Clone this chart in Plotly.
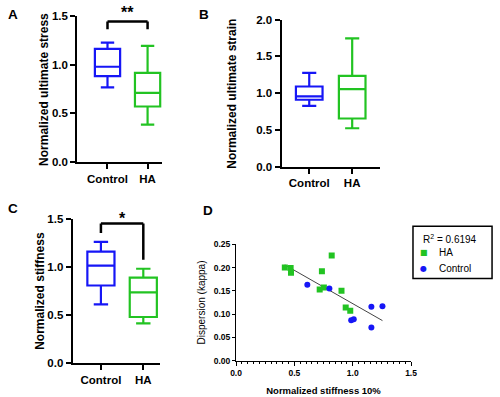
import numpy as np
import plotly.graph_objects as go

# ---------------- data ----------------
groups = ["Control", "HA"]
group_pos = [0, 1]

# Panel A: normalized ultimate stress (min, q1, median, q3, max)
stress_min = [0.765, 0.384]
stress_q1 = [0.88, 0.57]
stress_med = [0.977, 0.71]
stress_q3 = [1.16, 0.914]
stress_max = [1.224, 1.19]

# Panel B: normalized ultimate strain
strain_min = [0.827, 0.523]
strain_q1 = [0.91, 0.655]
strain_med = [0.955, 1.055]
strain_q3 = [1.09, 1.235]
strain_max = [1.275, 1.745]

# Panel C: normalized stiffness
stiff_min = [0.61, 0.413]
stiff_q1 = [0.806, 0.479]
stiff_med = [1.013, 0.735]
stiff_q3 = [1.158, 0.889]
stiff_max = [1.259, 0.98]

# Panel D: scatter
ha_x = [0.418, 0.468, 0.471, 0.736, 0.820, 0.717, 0.753, 0.904, 0.940, 0.979]
ha_y = [0.200, 0.199, 0.189, 0.192, 0.226, 0.153, 0.157, 0.150, 0.114, 0.107]
ctrl_x = [0.611, 0.800, 0.987, 1.009, 1.160, 1.255, 1.160]
ctrl_y = [0.163, 0.155, 0.087, 0.089, 0.116, 0.117, 0.071]
r2_text = "R<sup>2</sup> = 0.6194"
legend_names = ["HA", "Control"]

# axis titles
title_A = "Normalized ultimate stress"
title_B = "Normalized ultimate strain"
title_C = "Normalized stiffness"
title_Dx = "Normalized stiffness 10%"
title_Dy = "Dispersion (kappa)"

# significance brackets: (y_top, y_left_end, y_right_end, label)
sig_A = [1.44, 1.36, 1.36, "**"]
sig_C = [1.45, 1.35, 1.073, "*"]

BLUE = "#1616f6"
GREEN = "#22c322"
FONT = "Liberation Sans, Arial, sans-serif"

fig = go.Figure()


def add_box(stats, xa, ya, width):
    mn, q1, md, q3, mx = stats
    for i, col in enumerate([BLUE, GREEN]):
        fig.add_trace(go.Box(
            x=[group_pos[i]], q1=[q1[i]], median=[md[i]], q3=[q3[i]],
            lowerfence=[mn[i]], upperfence=[mx[i]],
            width=width, whiskerwidth=0.53,
            line=dict(color=col, width=2.2), fillcolor="rgba(255,255,255,0)",
            boxpoints=False, showlegend=False, hoverinfo="skip",
            xaxis=xa, yaxis=ya,
        ))


add_box([stress_min, stress_q1, stress_med, stress_q3, stress_max], "x", "y", 0.63)
add_box([strain_min, strain_q1, strain_med, strain_q3, strain_max], "x2", "y2", 0.62)
add_box([stiff_min, stiff_q1, stiff_med, stiff_q3, stiff_max], "x3", "y3", 0.64)

# regression line for panel D
all_x = np.array(ha_x + ctrl_x)
all_y = np.array(ha_y + ctrl_y)
slope, intercept = np.polyfit(all_x, all_y, 1)
lx = np.array([all_x.min(), all_x.max()])
fig.add_trace(go.Scatter(x=lx, y=slope * lx + intercept, mode="lines",
                         line=dict(color="#444444", width=1), showlegend=False,
                         hoverinfo="skip", xaxis="x4", yaxis="y4"))
fig.add_trace(go.Scatter(x=ha_x, y=ha_y, mode="markers", name="HA",
                         marker=dict(symbol="square", size=6, color=GREEN),
                         xaxis="x4", yaxis="y4"))
fig.add_trace(go.Scatter(x=ctrl_x, y=ctrl_y, mode="markers", name="Control",
                         marker=dict(symbol="circle", size=6, color=BLUE),
                         xaxis="x4", yaxis="y4"))

box_xaxis = dict(tickmode="array", tickvals=group_pos, ticktext=groups,
                 showline=True, linecolor="black", linewidth=2, ticks="outside",
                 ticklen=5, tickwidth=2, tickcolor="black", showgrid=False,
                 zeroline=False, tickfont=dict(family=FONT, size=11.5, color="black", weight="bold"))
box_yaxis = dict(showline=True, linecolor="black", linewidth=2, ticks="outside",
                 ticklen=5, tickwidth=2, tickcolor="black", showgrid=False,
                 zeroline=False, tickformat=".1f",
                 tickfont=dict(family=FONT, size=11.5, color="black", weight="bold"))
ttl = dict(family=FONT, size=12, color="black", weight="bold")

fig.update_layout(
    width=500, height=397, margin=dict(l=0, r=0, t=0, b=0),
    paper_bgcolor="white", plot_bgcolor="white",
    font=dict(family=FONT, color="black"),
    showlegend=False,
    xaxis=dict(box_xaxis, domain=[0.146, 0.32], range=[-0.755, 1.364]),
    yaxis=dict(box_yaxis, domain=[0.5945, 0.9748], range=[0, 1.5], dtick=0.5),
    xaxis2=dict(box_xaxis, domain=[0.5646, 0.766], range=[-0.645, 1.643], anchor="y2"),
    yaxis2=dict(box_yaxis, domain=[0.5826, 0.9647], range=[0, 2.0], dtick=0.5, anchor="x2"),
    xaxis3=dict(box_xaxis, domain=[0.1366, 0.316], range=[-0.667, 1.399], anchor="y3"),
    yaxis3=dict(box_yaxis, domain=[0.0723, 0.4476], range=[0, 1.5], dtick=0.5, anchor="x3"),
    xaxis4=dict(domain=[0.4714, 0.83], range=[0, 1.5], anchor="y4", dtick=0.5,
                tickformat=".1f", showline=True, linecolor="black", linewidth=1.2,
                ticks="outside", ticklen=4, tickwidth=1.2, tickcolor="black",
                minor=dict(dtick=0.05, ticks="outside", ticklen=2.5, tickwidth=1, tickcolor="black"),
                showgrid=False, zeroline=False,
                tickfont=dict(family=FONT, size=8.5, color="black", weight="bold"),
                title=dict(text=title_Dx, standoff=10,
                           font=dict(family=FONT, size=9.5, color="black", weight="bold"))),
    yaxis4=dict(domain=[0.0788, 0.3811], range=[0, 0.25], anchor="x4", dtick=0.05,
                tickformat=".2f", showline=True, linecolor="black", linewidth=1.2,
                ticks="outside", ticklen=3, tickwidth=1.2, tickcolor="black",
                showgrid=False, zeroline=False,
                tickfont=dict(family=FONT, size=8.5, color="black", weight="bold"),
                title=dict(text=title_Dy, standoff=6,
                           font=dict(family=FONT, size=10, color="black"))),
)

# y-axis titles of the box panels, placed as in the original
for txt, px, py in [(title_A, 39, 86.5), (title_B, 232, 90), (title_C, 34, 293.5)]:
    fig.add_annotation(xref="paper", yref="paper", x=px / 500, y=1 - py / 397, text=txt,
                       textangle=-90, showarrow=False, xanchor="center", yanchor="middle",
                       font=ttl)

# significance brackets
for sig, xa, ya, shift in [(sig_A, "x", "y", 9), (sig_C, "x3", "y3", 5)]:
    ytop, yl, yr, lab = sig
    fig.add_shape(type="line", xref=xa, yref=ya, x0=group_pos[0], x1=group_pos[1], y0=ytop, y1=ytop,
                  line=dict(color="black", width=2.5))
    fig.add_shape(type="line", xref=xa, yref=ya, x0=group_pos[0], x1=group_pos[0], y0=yl, y1=ytop,
                  line=dict(color="black", width=2.5))
    fig.add_shape(type="line", xref=xa, yref=ya, x0=group_pos[1], x1=group_pos[1], y0=yr, y1=ytop,
                  line=dict(color="black", width=2.5))
    fig.add_annotation(xref=xa, yref=ya, x=0.5, y=ytop, yanchor="middle", yshift=shift,
                       text=lab, showarrow=False,
                       font=dict(family=FONT, size=16, color="black", weight="bold"))

# panel letters
for lab, px, py in [("A", 7, 8.5), ("B", 202.5, 8.5), ("C", 7.5, 209), ("D", 206.5, 211)]:
    fig.add_annotation(xref="paper", yref="paper", x=px / 500, y=1 - py / 397, text=lab,
                       showarrow=False, xanchor="center", yanchor="middle",
                       font=dict(family=FONT, size=13.5, color="black", weight="bold"))

# legend box for panel D (drawn by hand to match the compact original)
fig.add_shape(type="rect", xref="paper", yref="paper", x0=417 / 500, x1=498 / 500,
              y0=1 - 281 / 397, y1=1 - 227 / 397, line=dict(color="black", width=1.5),
              fillcolor="white")
fig.add_annotation(xref="paper", yref="paper", x=425 / 500, y=1 - 240 / 397, text=r2_text,
                   showarrow=False, xanchor="left", yanchor="middle",
                   font=dict(family=FONT, size=10, color="black"))
for name, sym, col, py in [(legend_names[0], "■", GREEN, 254.5), (legend_names[1], "●", BLUE, 271)]:
    fig.add_annotation(xref="paper", yref="paper", x=428 / 500, y=1 - py / 397, text=sym,
                       showarrow=False, xanchor="center", yanchor="middle",
                       font=dict(family="DejaVu Sans", size=8, color=col))
    fig.add_annotation(xref="paper", yref="paper", x=441.5 / 500, y=1 - py / 397, text=name,
                       showarrow=False, xanchor="left", yanchor="middle",
                       font=dict(family=FONT, size=10, color="black"))

fig.write_html("out.html", config={"displayModeBar": False},
               post_script="document.body.style.margin='0';")
